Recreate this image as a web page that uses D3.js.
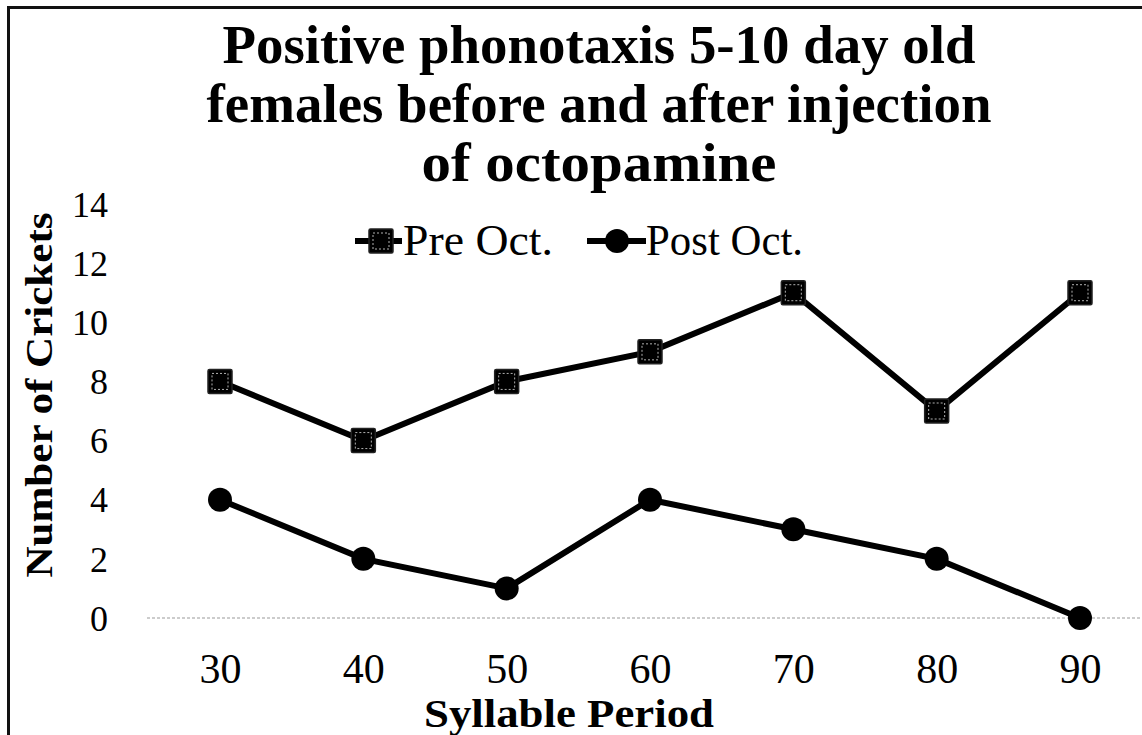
<!DOCTYPE html>
<html><head><meta charset="utf-8">
<script src="https://cdn.jsdelivr.net/npm/d3@7"></script>
<style>html,body{margin:0;padding:0;background:#fff;}svg{display:block;}</style>
</head><body>
<svg id="c" width="1142" height="735"></svg>
<script>
const categories = ["30","40","50","60","70","80","90"];
const preOct = [8,6,8,9,11,7,11];
const postOct = [4,2,1,4,3,2,0];
const yTicks = [0,2,4,6,8,10,12,14];
const titleLines = ["Positive phonotaxis 5-10 day old","females before and after injection","of octopamine"];
const seriesNames = ["Pre Oct.","Post Oct."];

const svg = d3.select("#c");
const serif = "'Liberation Serif','DejaVu Serif',serif";

// frame
svg.append("line").attr("x1",8.5).attr("x2",8.5).attr("y1",6).attr("y2",735).attr("stroke","#111").attr("stroke-width",3);
svg.append("line").attr("x1",7).attr("x2",1142).attr("y1",7.5).attr("y2",7.5).attr("stroke","#111").attr("stroke-width",3);

const x = d3.scalePoint().domain(categories).range([220,1080]);
const y = d3.scaleLinear().domain([0,14]).range([618,204]);

// title
const tWidths = [753, 785, 355];
titleLines.forEach((t,i)=>{
  svg.append("text").attr("x",599).attr("y",63+i*59).attr("text-anchor","middle")
    .attr("font-family",serif).attr("font-weight","bold").attr("font-size",54)
    .attr("textLength",tWidths[i]).attr("lengthAdjust","spacingAndGlyphs").text(t);
});

// zero line
svg.append("line").attr("x1",147).attr("x2",1142).attr("y1",y(0)).attr("y2",y(0))
  .attr("stroke","#999").attr("stroke-width",1.2).attr("stroke-dasharray","3,2");

// y axis
const yAxis = d3.axisLeft(y).tickValues(yTicks).tickSize(0).tickPadding(0);
const gy = svg.append("g").attr("transform","translate(108,0)").call(yAxis);
gy.select(".domain").remove();
gy.selectAll("text").attr("font-family",serif).attr("font-size",36).attr("fill","#000").attr("dy","0.34em");

// x axis
const xAxis = d3.axisBottom(x).tickSize(0).tickPadding(0);
const gx = svg.append("g").attr("transform","translate(0,683)").call(xAxis);
gx.select(".domain").remove();
gx.selectAll("text").attr("font-family",serif).attr("font-size",42).attr("fill","#000").attr("dy",0);

// axis titles
svg.append("text").attr("transform","translate(52,395) rotate(-90)").attr("text-anchor","middle")
  .attr("font-family",serif).attr("font-weight","bold").attr("font-size",38)
  .attr("textLength",365).attr("lengthAdjust","spacingAndGlyphs").text("Number of Crickets");
svg.append("text").attr("x",569).attr("y",727).attr("text-anchor","middle")
  .attr("font-family",serif).attr("font-weight","bold").attr("font-size",40)
  .attr("textLength",290).attr("lengthAdjust","spacingAndGlyphs").text("Syllable Period");

// lines
const line = d3.line().x((d,i)=>x(categories[i])).y(d=>y(d));
[preOct, postOct].forEach(s=>{
  svg.append("path").datum(s).attr("d",line).attr("fill","none").attr("stroke","#000")
    .attr("stroke-width",6).attr("stroke-linejoin","miter");
});

function square(g, cx, cy){
  g.append("rect").attr("x",cx-12).attr("y",cy-12).attr("width",24).attr("height",24)
    .attr("fill","#000").attr("stroke","#222").attr("stroke-width",1.5).attr("rx",1.5);
  g.append("rect").attr("x",cx-8).attr("y",cy-8).attr("width",16).attr("height",16)
    .attr("fill","none").attr("stroke","#ddd").attr("stroke-width",0.8).attr("stroke-dasharray","2,2");
}
function circle(g, cx, cy){
  g.append("circle").attr("cx",cx).attr("cy",cy).attr("r",12).attr("fill","#000");
}
const gm = svg.append("g");
preOct.forEach((v,i)=>square(gm, x(categories[i]), y(v)));
postOct.forEach((v,i)=>circle(gm, x(categories[i]), y(v)));

// legend
const lg = svg.append("g");
const legY = 241;
lg.append("line").attr("x1",355).attr("x2",402).attr("y1",legY).attr("y2",legY).attr("stroke","#000").attr("stroke-width",6);
square(lg, 381, legY);
lg.append("text").attr("x",403).attr("y",legY+14).attr("font-family",serif).attr("font-size",44)
  .attr("textLength",150).attr("lengthAdjust","spacingAndGlyphs").text(seriesNames[0]);
lg.append("line").attr("x1",587).attr("x2",646).attr("y1",legY).attr("y2",legY).attr("stroke","#000").attr("stroke-width",6);
circle(lg, 617, legY);
lg.append("text").attr("x",646).attr("y",legY+14).attr("font-family",serif).attr("font-size",44)
  .attr("textLength",157).attr("lengthAdjust","spacingAndGlyphs").text(seriesNames[1]);
</script>
</body></html>
